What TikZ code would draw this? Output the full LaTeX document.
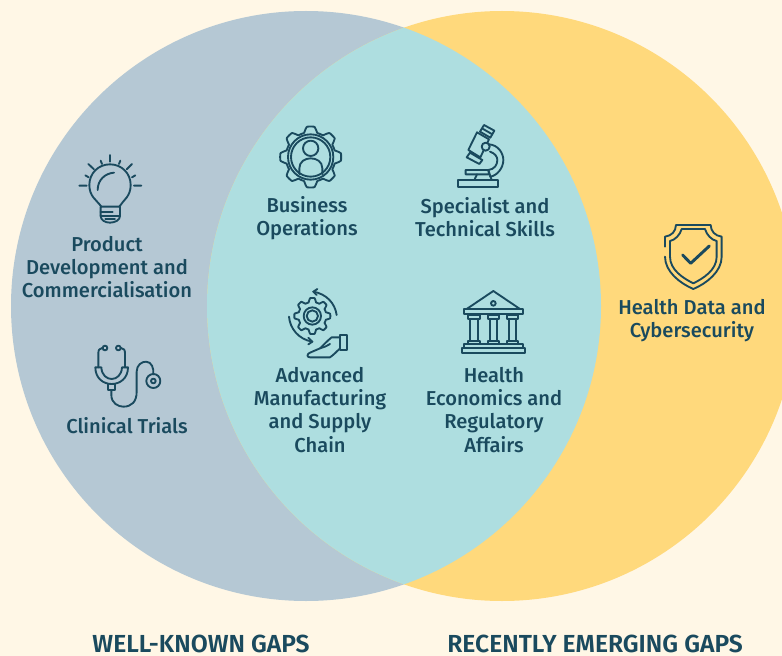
\documentclass[tikz,border=0pt]{standalone}
\usepackage{fontspec}
\setmainfont{Fira Sans}[BoldFont=Fira Sans Medium]
\newfontfamily\headfont{Fira Sans SemiBold}
\definecolor{bgc}{HTML}{FFF7E6}
\definecolor{leftc}{HTML}{B5C8D4}
\definecolor{rightc}{HTML}{FFD97C}
\definecolor{lensc}{HTML}{AEDEE0}
\definecolor{inkc}{HTML}{1A4A5E}
\tikzset{
  lbl/.style={text=inkc,align=center,font=\fontsize{15.1}{17.3}\selectfont\bfseries,inner sep=0pt},
  head/.style={text=inkc,font=\fontsize{18.5}{20}\selectfont\headfont,inner sep=0pt},
  icon/.style={draw=inkc,line width=1.4pt,line cap=round,line join=round,fill=none},
  zoomed/.style={x=.25pt,y=-.25pt}
}
\begin{document}
\begin{tikzpicture}[x=.75pt,y=-.75pt]
\useasboundingbox (0,0) rectangle (782,656);
\clip (0,0) rectangle (782,656);
\fill[bgc] (0,0) rectangle (782,656);
\fill[leftc] (306,306) circle (221.25pt);
\fill[rightc] (502,306) circle (221.25pt);
\begin{scope}
\clip (306,306) circle (221.25pt);
\fill[lensc] (502,306) circle (221.25pt);
\end{scope}
% bulb
\begin{scope}[shift={(60,140)},zoomed]
\draw[icon] (124,200) .. controls (110,180) and (88,170) .. (88,135) .. controls (88,100) and (115,73) .. (150,73) .. controls (185,73) and (212,100) .. (212,135) .. controls (212,170) and (190,180) .. (178,200);
\draw[icon] (122,200) -- (180,200) (122,200) -- (122,228) .. controls (122,240) and (135,248) .. (150,248) .. controls (165,248) and (180,240) .. (180,228) -- (180,200);
\draw[icon] (122,215) -- (158,215) (122,228) -- (180,228) (136,238) -- (165,238);
\draw[icon] (113,150) .. controls (113,120) and (135,100) .. (162,98);
\draw[icon] (150,45) -- (150,65) (122,62) -- (126,72) (181,62) -- (177,72) (85,72) -- (102,88) (216,72) -- (200,88) (76,106) -- (86,112) (226,106) -- (216,112) (58,137) -- (80,137) (222,137) -- (244,137);
\end{scope}
% stethoscope
\begin{scope}[shift={(80,335)},zoomed]
\draw[icon] (75,39) circle[radius=7] (115,39) circle[radius=7];
\draw[icon] (67,39) .. controls (58,40) and (55,45) .. (55,55) -- (55,97);
\draw[icon] (123,39) .. controls (132,40) and (135,45) .. (135,55) -- (135,97);
\draw[icon] (46,97) -- (64,97) .. controls (65,120) and (80,132) .. (95,132) .. controls (110,132) and (125,120) .. (126,97) -- (144,97) .. controls (144,130) and (120,147) .. (95,147) .. controls (70,147) and (46,130) .. (46,97) -- cycle;
\draw[icon] (84,147) -- (84,165) -- (104,165) -- (104,147);
\draw[icon] (94,165) -- (94,180) .. controls (94,205) and (115,215) .. (130,215) .. controls (155,215) and (170,200) .. (170,170) -- (170,110) .. controls (170,90) and (185,80) .. (198,80) .. controls (215,80) and (222,100) .. (220,118);
\draw[icon] (220,138) circle[radius=21] (220,138) circle[radius=7];
\end{scope}
% gear with person
\begin{scope}[shift={(265,115)},zoomed]
\draw[icon] plot[domain=0:360,samples=241] ({137+(83+8.5*max(-1,min(1,1.8*cos(8*(\x-90)))))*cos(\x)},{126-(83+8.5*max(-1,min(1,1.8*cos(8*(\x-90)))))*sin(\x)}) -- cycle;
\draw[icon] (137,126) circle[radius=68] (137,126) circle[radius=59];
\draw[icon] (137,100) circle[radius=23];
\draw[icon] (103,177) -- (103,160) .. controls (103,140) and (120,130) .. (137,130) .. controls (155,130) and (172,140) .. (172,160) -- (172,177);
\end{scope}
% microscope
\begin{scope}[shift={(445,115)},zoomed]
\draw[icon] (38,195) rectangle (158,217);
\draw[icon] (62,165) -- (130,165) -- (132,178) -- (62,178) -- cycle;
\draw[icon] (88,195) -- (96,178) (140,195) -- (130,165);
\draw[icon] (132,88) .. controls (160,90) and (175,115) .. (175,135) .. controls (175,160) and (155,183) .. (135,185);
\draw[icon] (135,110) .. controls (150,115) and (157,125) .. (157,135) .. controls (157,150) and (148,163) .. (130,165);
\draw[icon] (96,52) -- (132,73) -- (106,127) -- (70,105) -- cycle;
\draw[icon] (75,113) -- (112,135) -- (103,147) -- (65,127) -- cycle;
\draw[icon] (117,30) -- (148,47) -- (136,68) -- (105,50) -- cycle (111,40) -- (142,58);
\filldraw[icon,fill=lensc] (122,95) circle[radius=12];
\end{scope}
% gear, arrows and hand
\begin{scope}[shift={(275,280)},zoomed]
\draw[icon] plot[domain=0:360,samples=241] ({112+(48+6*max(-1,min(1,1.8*cos(8*(\x-90)))))*cos(\x)},{108-(48+6*max(-1,min(1,1.8*cos(8*(\x-90)))))*sin(\x)}) -- cycle;
\draw[icon] (112,108) circle[radius=26] (112,108) circle[radius=17];
\draw[icon] (185,105) .. controls (180,70) and (155,42) .. (115,35);
\draw[icon] (127,27) -- (115,35) -- (125,45);
\draw[icon] (42,110) .. controls (45,145) and (70,178) .. (112,185);
\draw[icon] (100,173) -- (112,185) -- (100,193);
\draw[icon] (195,165) -- (217,165) -- (217,210) -- (195,210) -- cycle;
\draw[icon] (195,172) -- (170,172) .. controls (160,180) and (150,190) .. (135,205) -- (105,218) .. controls (95,222) and (95,232) .. (105,232) -- (165,232) .. controls (175,225) and (185,215) .. (195,205);
\draw[icon] (135,205) .. controls (145,203) and (155,198) .. (165,192);
\end{scope}
% bank
\begin{scope}[shift={(450,285)},zoomed]
\draw[icon] (50,72) -- (130,18) -- (210,72);
\draw[icon] (130,55) circle[radius=7];
\draw[icon] (42,73) rectangle (218,88);
\foreach \cx in {72,130,188}{
  \draw[icon] (\cx-17,90) rectangle (\cx+17,102);
  \draw[icon] (\cx-11,102) -- (\cx-11,167) (\cx+11,102) -- (\cx+11,167);
  \draw[icon] (\cx-17,167) rectangle (\cx+17,178);
}
\draw[icon] (42,178) rectangle (218,190);
\draw[icon] (36,190) rectangle (224,205);
\end{scope}
% shield
\begin{scope}[shift={(650,215)},zoomed]
\draw[icon] (45,95) -- (45,65) .. controls (65,62) and (77,50) .. (78,30) -- (182,30) .. controls (183,50) and (195,62) .. (215,65) -- (215,125) .. controls (215,170) and (170,205) .. (130,222) .. controls (90,205) and (45,170) .. (45,125);
\draw[icon] (95,42) -- (165,42) .. controls (170,60) and (185,75) .. (200,78) -- (200,125) .. controls (200,165) and (160,190) .. (130,205) .. controls (100,190) and (60,165) .. (60,125) -- (60,78) .. controls (75,75) and (90,60) .. (95,42);
\draw[icon,line width=2.2pt] (98,120) -- (122,145) -- (178,93);
\end{scope}
% labels
\node[lbl] (product) at (107,267) {Product\\Development and\\Commercialisation};
\node[lbl] (clinical) at (127,425.5) {Clinical Trials};
\node[lbl] (business) at (307,218) {Business\\Operations};
\node[lbl] (specialist) at (485,217) {Specialist and\\Technical Skills};
\node[lbl] (advanced) at (320,410) {Advanced\\Manufacturing\\and Supply\\Chain};
\node[lbl] (economics) at (494,410) {Health\\Economics and\\Regulatory\\Affairs};
\node[lbl] (cyber) at (692,320.5) {Health Data and\\Cybersecurity};
\node[head] (known) at (201,643.5) {WELL-KNOWN GAPS};
\node[head] (emerging) at (595,643.5) {RECENTLY EMERGING GAPS};
\end{tikzpicture}
\end{document}
